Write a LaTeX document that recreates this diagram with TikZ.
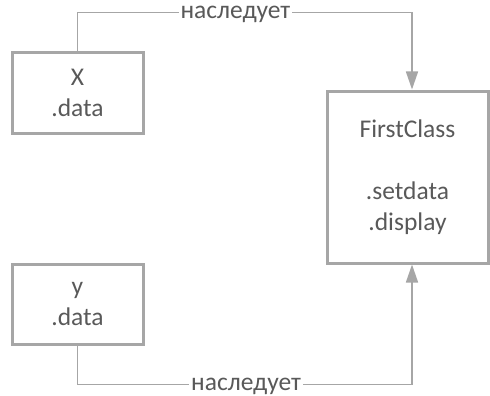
\documentclass[tikz,border=0pt]{standalone}
\usepackage{fontspec}
\setmainfont{Carlito}
\usetikzlibrary{arrows.meta}
\definecolor{boxgray}{HTML}{A6A6A6}
\definecolor{txtgray}{HTML}{595959}

\begin{document}
\begin{tikzpicture}[x=1pt,y=-1pt]

\tikzset{classbox/.style = {draw=boxgray, line width=3pt, text=txtgray, align=center,
  font=\fontsize{25.5}{31}\selectfont, inner sep=0pt}}
\tikzset{inherit/.style = {draw=boxgray, line width=1.5pt, -{Triangle[length=18pt,width=12pt]}}}
\tikzset{lbl/.style = {fill=white, text=txtgray, anchor=base, yshift=-6pt, inner xsep=2pt, inner ysep=1pt,
  text height=12pt, text depth=0pt, font=\fontsize{25.5}{31}\selectfont}}
\useasboundingbox (0,0) rectangle (490,396);
%classes
\node[classbox, minimum width=131pt, minimum height=80pt] (x) at (77.5,93) {X\\.data};
\node[classbox, minimum width=131pt, minimum height=80pt] (y) at (77.5,304) {y\\.data};
\node[classbox, minimum width=161pt, minimum height=172pt] (fc) at (407.5,177) {FirstClass\\ \\.setdata\\.display};
%edges
\draw[inherit] (x.north) -- ++(0,-39) -| node[lbl, pos=0.236] {наследует} ([xshift=4.5pt]fc.north);
\draw[inherit] (y.south) -- ++(0,39) -| node[lbl, pos=0.252] {наследует} ([xshift=4.5pt]fc.south);

\end{tikzpicture}
\end{document}
